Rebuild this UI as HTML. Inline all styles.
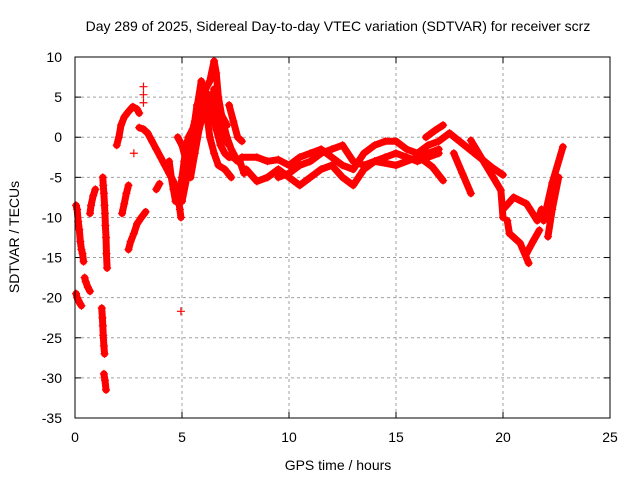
<!DOCTYPE html>
<html><head><meta charset="utf-8"><style>
body{margin:0;background:#fff}
svg{display:block;font-family:"Liberation Sans",sans-serif}
</style></head><body>
<svg id="chart" width="640" height="480" viewBox="0 0 640 480" xmlns="http://www.w3.org/2000/svg">
<rect width="640" height="480" fill="#fff"/>
<text x="338" y="31" text-anchor="middle" font-size="14">Day 289 of 2025, Sidereal Day-to-day VTEC variation (SDTVAR) for receiver scrz</text>
<g id="grid"></g>
<g id="axes"></g>
<g id="marks"></g>
<rect x="75" y="57" width="535" height="361" fill="none" stroke="#000" stroke-width="1"/>
<text x="338" y="470" text-anchor="middle" font-size="14">GPS time / hours</text>
<text transform="translate(19,237) rotate(-90)" text-anchor="middle" font-size="14">SDTVAR / TECUs</text>
</svg>
<script>
const xTicks=[0,5,10,15,20,25];
const yTicks=[10,5,0,-5,-10,-15,-20,-25,-30,-35];
const early1=[[0.05,-8.5],[0.1,-9],[0.15,-10.5],[0.2,-11.5],[0.25,-13],[0.3,-14],[0.35,-14.5],[0.4,-15.5]];
const early2=[[0.05,-19.5],[0.1,-20],[0.15,-20.3],[0.25,-20.8],[0.3,-21]];
const early3=[[0.45,-17.5],[0.5,-18],[0.6,-18.7],[0.7,-19.2]];
const early4=[[0.7,-9.5],[0.75,-8.5],[0.85,-7.3],[0.95,-6.5]];
const drop1=[[1.3,-5],[1.32,-6],[1.35,-7],[1.38,-8.5],[1.4,-9.5],[1.42,-11],[1.45,-12.5],[1.47,-14.5],[1.5,-16.3]];
const drop2=[[1.25,-21.3],[1.28,-22.5],[1.3,-23.5],[1.32,-24.7],[1.35,-26],[1.38,-27]];
const drop3=[[1.35,-29.5],[1.4,-30.3],[1.45,-31.5]];
const seg7=[[2.2,-9.5],[2.3,-8.3],[2.4,-7],[2.5,-6]];
const seg8=[[2.5,-14],[2.6,-13],[2.75,-12],[2.9,-10.8],[3.1,-10],[3.3,-9.3]];
const rise=[[1.95,-1],[2.05,0],[2.15,1.5],[2.3,2.5],[2.5,3.2],[2.7,3.8],[2.9,3.5],[3.0,3]];
const hump=[[3.0,1.2],[3.2,1],[3.4,0.5],[3.6,-0.5],[3.8,-1.5],[4.0,-2.5],[4.2,-3.5],[4.4,-4.5],[4.6,-5.5],[4.8,-7],[4.9,-9],[4.95,-10]];
const small1=[[3.8,-6.5],[3.95,-5.8]];
const singles=[[4.95,-21.7],[2.75,-2],[3.2,6.3],[3.2,5.3],[3.2,4.3]];
const peak1=[[4.4,-3],[4.5,-5],[4.6,-6.5],[4.7,-8],[4.9,-7],[5.0,-5],[5.1,-3],[5.2,-1],[5.3,0],[5.5,1],[5.7,3],[5.9,5],[6.1,6],[6.3,7],[6.5,9.5],[6.6,8],[6.7,5],[6.9,2],[7.1,0],[7.3,-1.5],[7.5,-2.5],[7.7,-3],[7.9,-4.5]];
const peak2=[[4.8,0],[5.0,-1],[5.2,-3],[5.4,-5],[5.6,-2],[5.8,1],[6.0,3],[6.2,4.5],[6.4,3],[6.6,1],[6.8,-1],[7.0,-2],[7.2,-2.5],[7.4,-2.5],[7.6,-3]];
const peak3=[[5.0,-8],[5.3,-4],[5.6,2],[5.9,7],[6.1,4],[6.3,0],[6.5,-2],[6.7,-3.5],[7.0,-4],[7.3,-5]];
const peak4=[[7.2,4],[7.4,2],[7.6,0],[7.8,-0.5]];
const peak5=[[5.1,-6],[5.4,-2],[5.7,4],[6.0,6],[6.3,5],[6.6,3],[6.9,0],[7.2,-1]];
const peak6=[[5.6,0],[5.9,3],[6.2,2],[6.5,6],[6.8,3],[7.1,1.5]];
const bandA=[[7.8,-2.5],[8.5,-2.5],[9,-3],[9.5,-2.8],[10,-3.5],[10.5,-2.5],[11,-2],[11.5,-1.5],[12,-2.5],[12.5,-3.5],[13,-4],[13.5,-2],[14,-1],[14.5,-0.5],[15,-0.5],[15.5,-1.5],[16,-2],[16.5,-1],[17,-0.5],[17.5,0.5]];
const bandB=[[8,-4],[8.5,-5.5],[9,-5],[9.5,-4],[10,-5],[10.5,-6],[11,-5],[11.5,-4],[12,-3.5],[12.5,-5],[13,-6],[13.5,-4],[14,-3],[14.5,-2.5],[15,-2],[15.5,-2.5],[16,-3],[16.5,-2.5],[17,-2]];
const bandC=[[9.5,-5],[10,-4.5],[10.5,-3.5],[11,-3],[11.5,-2],[12,-1.5],[12.5,-1],[13,-3],[13.5,-3.5],[14,-3],[15,-3.5],[16,-2.5],[17,-1.5]];
const late1=[[16.4,0],[16.8,0.8],[17.2,1.5]];
const late2=[[17.5,0.5],[18.2,-1],[18.9,-2.5],[19.5,-3.8],[20,-4.7]];
const late3=[[17.7,-2],[18.1,-4.5],[18.5,-7]];
const late4=[[18.5,-0.4],[19.2,-3.5],[19.9,-6.6],[20,-10]];
const late5=[[16.1,-2.5],[16.7,-3.7],[17.2,-5.4]];
const loop1=[[20,-9],[20.5,-7.5],[21.1,-8.3],[21.6,-10.4],[21.8,-9]];
const loop2=[[20.2,-10.4],[20.3,-12],[20.8,-13.2],[21.2,-15.7]];
const loop3=[[21.1,-14.5],[21.4,-13],[21.7,-11.6]];
const finalRise=[[21.9,-10.4],[22.3,-5.7],[22.8,-1.2]];
const finalRise2=[[22.1,-12.4],[22.3,-9],[22.6,-5]];
const series=[early1,early2,early3,early4,drop1,drop2,drop3,seg7,seg8,rise,hump,small1,singles,peak1,peak2,peak3,peak4,peak5,peak6,bandA,bandB,bandC,late1,late2,late3,late4,late5,loop1,loop2,loop3,finalRise,finalRise2];
const X0=75,X1=610,Y0=418,Y1=57;
function sx(h){return X0+(h-0)/(25-0)*(X1-X0);}
function sy(v){return Y0-(v+35)/(10+35)*(Y0-Y1);}
const NS="http://www.w3.org/2000/svg";
const grid=document.getElementById('grid'),axes=document.getElementById('axes'),marks=document.getElementById('marks');
function mk(tag,attrs,parent){const e=document.createElementNS(NS,tag);for(const k in attrs)e.setAttribute(k,attrs[k]);parent.appendChild(e);return e;}
xTicks.forEach(t=>{const x=sx(t);
 if(t>0&&t<25){const g=mk('line',{x1:x,x2:x,y1:Y0,y2:Y1,stroke:'#a0a0a0','stroke-dasharray':'3,3'},grid);
 
 }
 mk('line',{x1:x,x2:x,y1:Y0,y2:Y0-6,stroke:'#000'},axes);
 mk('line',{x1:x,x2:x,y1:Y1,y2:Y1+6,stroke:'#000'},axes);
 const l=mk('text',{x:x,y:442,'text-anchor':'middle','font-size':14},axes);l.textContent=t;
 
 
});
yTicks.forEach(t=>{const y=sy(t);
 if(t>-35&&t<10){const g=mk('line',{x1:X0,x2:X1,y1:y,y2:y,stroke:'#a0a0a0','stroke-dasharray':'3,3'},grid);
 
 }
 mk('line',{x1:X0,x2:X0+6,y1:y,y2:y,stroke:'#000'},axes);
 mk('line',{x1:X1,x2:X1-6,y1:y,y2:y,stroke:'#000'},axes);
 const l=mk('text',{x:62,y:y+5,'text-anchor':'end','font-size':14},axes);l.textContent=t;
 
 
});
series.forEach(s=>{
 if(s!==singles&&s.length>1){const p=mk('polyline',{points:s.map(d=>sx(d[0])+','+sy(d[1])).join(' '),fill:'none',stroke:'#f00','stroke-width':7,'stroke-linejoin':'round','stroke-linecap':'round'},marks);
 
 }
 s.forEach(d=>{const x=sx(d[0]),y=sy(d[1]);
  const m=mk('path',{d:`M${x-4},${y}h8M${x},${y-4}v8`,stroke:'#f00','stroke-width':1.2},marks);
  
  
 });
});
</script>
</body></html>
